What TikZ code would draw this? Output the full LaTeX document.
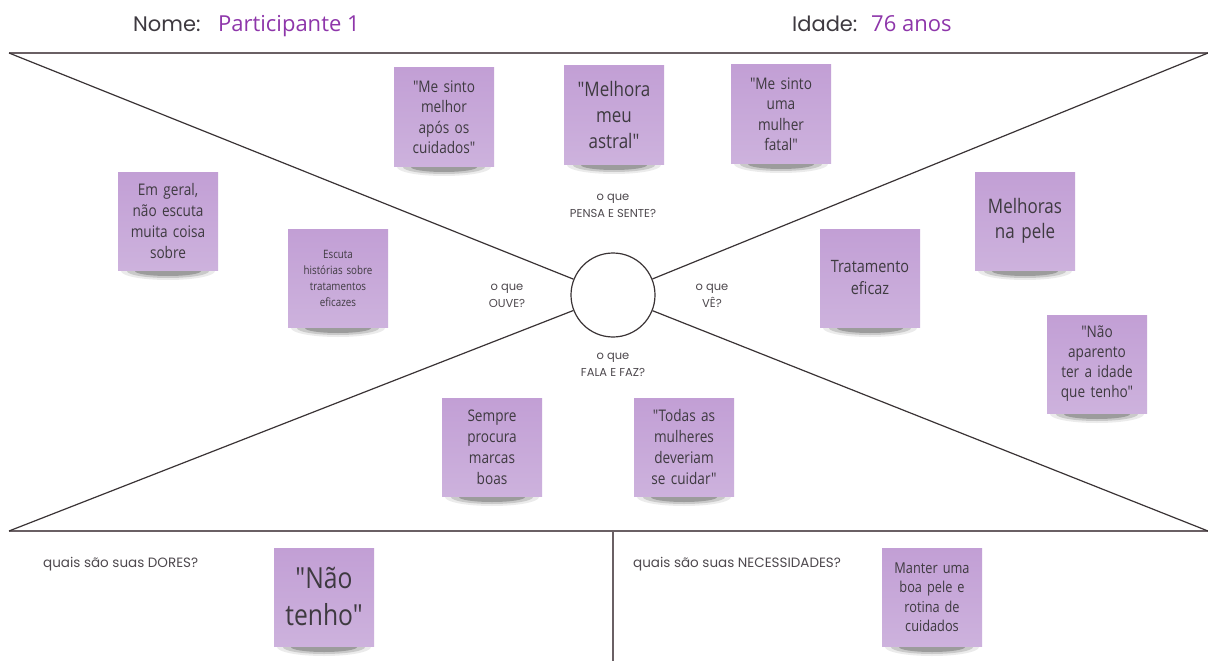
\documentclass[tikz,border=0pt]{standalone}
\usepackage{fontspec}
\setmainfont{Open Sans}
\newfontfamily\notef[FakeStretch=0.85]{Open Sans}
\newfontfamily\labf{Poppins}
\definecolor{notetop}{HTML}{C29FD5}
\definecolor{notebot}{HTML}{CDB2DD}
\definecolor{notetext}{HTML}{3E3A40}
\definecolor{framecol}{HTML}{6A6064}
\definecolor{diagcol}{HTML}{3A3335}
\definecolor{labcol}{HTML}{4E494E}
\definecolor{purp}{HTML}{8E36AA}
\newcommand\sticky[6]{%
  \fill[black,opacity=0.08] (#2,{#3+50}) ellipse[x radius=47,y radius=9];
  \fill[black,opacity=0.14] (#2,{#3+50}) ellipse[x radius=41,y radius=7];
  \fill[black,opacity=0.22] (#2,{#3+50}) ellipse[x radius=33,y radius=5];
  \node[notebox,font=\notef\fontsize{#4}{#5}\selectfont] (#1) at (#2,#3) {#6};
}
\begin{document}
\begin{tikzpicture}[x=1pt,y=-1pt,
  notebox/.style={minimum width=100pt,minimum height=98pt,inner sep=2pt,text width=96pt,align=center,top color=notetop,bottom color=notebot,text=notetext},
  frameline/.style={draw=framecol,line width=1.8pt},
  diagline/.style={draw=diagcol,line width=1.2pt},
  lab/.style={font=\labf\fontsize{11.5}{16.5}\selectfont,text=labcol,align=center,inner sep=0pt},
  sublab/.style={font=\labf\fontsize{13.5}{16}\selectfont,text=labcol,anchor=base west,inner sep=0pt},
  head/.style={font=\labf\fontsize{21}{24}\selectfont,text=notetext,anchor=base west,inner sep=0pt},
  headval/.style={font=\fontsize{22}{24}\selectfont,text=purp,anchor=base west,inner sep=0pt}]
\useasboundingbox (0,0) rectangle (1208,661);
\fill[white] (0,0) rectangle (1208,661);
% header
\node[head] (nome) at (133,32) {Nome:};
\node[headval] (part) at (218,32) {Participante 1};
\node[head] (idade) at (792,32) {Idade:};
\node[headval] (anos) at (871,32) {76 anos};
% frame
\coordinate (tl) at (9,53);
\coordinate (tr) at (1208,53);
\coordinate (bl) at (9,531);
\coordinate (br) at (1208,531);
\coordinate (vtop) at (613,531);
\coordinate (vbot) at (613,661);
\draw[frameline] (tl) -- (tr);
\draw[frameline] (bl) -- (br);
\draw[frameline] (vtop) -- (vbot);
\node[circle,draw=diagcol,line width=1.2pt,minimum size=84pt,inner sep=0pt] (c) at (613,295) {};
\draw[diagline] (tl) -- (c);
\draw[diagline] (tr) -- (c);
\draw[diagline] (bl) -- (c);
\draw[diagline] (br) -- (c);
% labels
\node[lab] (pensa) at (613,206) {o que\\PENSA E SENTE?};
\node[lab] (ouve) at (507,296) {o que\\OUVE?};
\node[lab] (ve) at (712,296) {o que\\VÊ?};
\node[lab] (fala) at (613,365) {o que\\FALA E FAZ?};
\node[sublab] (dores) at (43,567) {quais são suas DORES?};
\node[sublab] (nec) at (633,567) {quais são suas NECESSIDADES?};
% notes
\sticky{n1}{444}{117}{16}{20.5}{"Me sinto\\melhor\\após os\\cuidados"}
\sticky{n2}{614}{115}{20}{26}{"Melhora\\meu\\astral"}
\sticky{n3}{781}{114}{16}{20.5}{"Me sinto\\uma\\mulher\\fatal"}
\sticky{n4}{168}{221}{16}{21}{Em geral,\\não escuta\\muita coisa\\sobre}
\sticky{n5}{338}{278}{11.5}{16}{Escuta\\histórias sobre\\tratamentos\\eficazes}
\sticky{n6}{870}{278}{17}{22}{Tratamento\\eficaz}
\sticky{n7}{1025}{221}{20}{25}{Melhoras\\na pele}
\sticky{n8}{1097}{364}{16}{20}{"Não\\aparento\\ter a idade\\que tenho"}
\sticky{n9}{492}{447}{16}{21}{Sempre\\procura\\marcas\\boas}
\sticky{n10}{684}{447}{16}{21}{"Todas as\\mulheres\\deveriam\\se cuidar"}
\sticky{n11}{324}{597}{29}{37}{"Não\\tenho"}
\sticky{n12}{932}{597}{15}{19.5}{Manter uma\\boa pele e\\rotina de\\cuidados}
\end{tikzpicture}
\end{document}
